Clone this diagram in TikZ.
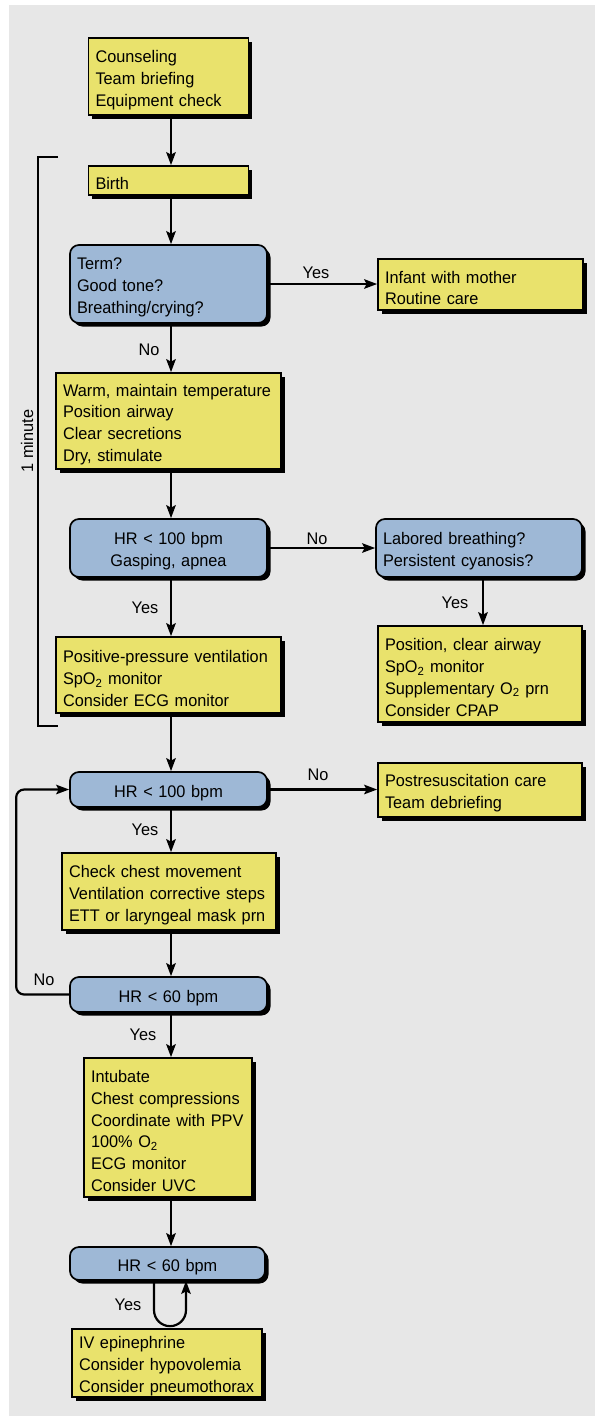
\documentclass[tikz,border=0pt]{standalone}
\usepackage{fontspec}
\setmainfont{Liberation Sans}[FakeStretch=0.97]
\usetikzlibrary{arrows.meta,shadows,calc}
\definecolor{ybox}{RGB}{233,226,108}
\definecolor{bbox}{RGB}{158,184,214}
\definecolor{bgcol}{RGB}{231,231,231}
\newcommand{\boxfont}{\fontsize{16.8}{21.8}\selectfont\hyphenpenalty=10000\exhyphenpenalty=10000}
\tikzset{
  boxbase/.style={draw=black, line width=1.7pt, inner xsep=7pt, inner ysep=0pt,
    font=\boxfont, anchor=center,
    execute at begin node={\rule{0pt}{19pt}},
    general shadow={fill=black, shadow xshift=3.5pt, shadow yshift=-3.5pt}},
  actbox/.style={boxbase, fill=ybox, align=left},
  askbox/.style={boxbase, fill=bbox, rounded corners=9pt, align=left},
  askc/.style={askbox, align=center},
  arr/.style={line width=2.2pt, -{Stealth[length=13pt,width=9.5pt,inset=2.5pt]}},
  lbl/.style={font=\fontsize{16.8}{20}\selectfont, inner sep=0pt},
  brk/.style={line width=1.4pt}
}
\begin{document}
\begin{tikzpicture}[x=1pt,y=1pt]
\useasboundingbox (0,0) rectangle (595,-1416);
\fill[white] (0,0) rectangle (595,-1416);
\fill[bgcol] (9,-5) rectangle (595,-1416);

\coordinate (sp) at (171,0);
\coordinate (sr) at (483,0);

\node[actbox, text width=146pt, minimum height=77pt] (b1) at (168.5,-76.5)
  {Counseling\\Team briefing\\Equipment check};
\node[actbox, text width=146pt, minimum height=29pt] (birth) at (168.5,-180.5) {Birth};
\node[askbox, text width=183pt, minimum height=78pt] (d1) at (168.5,-284)
  {Term?\\Good tone?\\Breathing/crying?};
\node[actbox, text width=191pt, minimum height=51pt] (infant) at (480.5,-284.5)
  {Infant with mother\\Routine care};
\node[actbox, text width=211pt, minimum height=96pt] (warm) at (168.5,-421)
  {\mbox{Warm, maintain temperature}\\Position airway\\Clear secretions\\Dry, stimulate};
\node[askc, text width=183pt, minimum height=58pt] (d2) at (168.5,-548)
  {HR < 100 bpm\\Gasping, apnea};
\node[askbox, text width=192pt, minimum height=58pt] (lab) at (479,-548)
  {Labored breathing?\\Persistent cyanosis?};
\node[actbox, text width=190pt, minimum height=96pt] (pos) at (480,-674)
  {Position, clear airway\\SpO\textsubscript{2} monitor\\Supplementary O\textsubscript{2} prn\\Consider CPAP};
\node[actbox, text width=211pt, minimum height=76pt] (ppv) at (168.5,-675)
  {\mbox{Positive-pressure ventilation}\\SpO\textsubscript{2} monitor\\Consider ECG monitor};
\node[askc, text width=183pt, minimum height=35pt] (d3) at (168.5,-789.5) {HR < 100 bpm};
\node[actbox, text width=190pt, minimum height=54pt] (post) at (480,-790)
  {Postresuscitation care\\Team debriefing};
\node[actbox, text width=200pt, minimum height=77pt] (chk) at (169,-891.5)
  {Check chest movement\\\mbox{Ventilation corrective steps}\\ETT or laryngeal mask prn};
\node[askc, text width=183pt, minimum height=35pt] (d4) at (168.5,-994.5) {HR < 60 bpm};
\node[actbox, text width=154pt, minimum height=139pt] (intu) at (168,-1127.5)
  {Intubate\\Chest compressions\\\mbox{Coordinate with PPV}\\100\% O\textsubscript{2}\\ECG monitor\\Consider UVC};
\node[askc, text width=181pt, minimum height=33pt] (d5) at (167.5,-1263.5) {HR < 60 bpm};
\node[actbox, text width=176pt, minimum height=68pt] (iv) at (167,-1363)
  {IV epinephrine\\Consider hypovolemia\\\mbox{Consider pneumothorax}};

% spine arrows
\draw[arr] (b1.south -| sp) -- (birth.north -| sp);
\draw[arr] (birth.south -| sp) -- (d1.north -| sp);
\draw[arr] (d1.south -| sp) -- (warm.north -| sp);
\draw[arr] (warm.south -| sp) -- (d2.north -| sp);
\draw[arr] (d2.south -| sp) -- (ppv.north -| sp);
\draw[arr] (ppv.south -| sp) -- (d3.north -| sp);
\draw[arr] (d3.south -| sp) -- (chk.north -| sp);
\draw[arr] (chk.south -| sp) -- (d4.north -| sp);
\draw[arr] (d4.south -| sp) -- (intu.north -| sp);
\draw[arr] (intu.south -| sp) -- (d5.north -| sp);

% side arrows
\draw[arr] (d1.east) -- (infant.west |- d1.east);
\draw[arr] (d2.east) -- (lab.west |- d2.east);
\draw[arr] (lab.south -| sr) -- (pos.north -| sr);
\draw[arr] (d3.east) -- (post.west |- d3.east);

% loop back
\draw[arr, rounded corners=8pt] (d4.west) -- ++(-53,0) |- (d3.west);

% epinephrine loop
\coordinate (la) at (154,0);
\coordinate (ra) at (186,0);
\draw[arr] (d5.south -| la) -- ($(iv.north -| la)+(0,18)$)
  arc[start angle=180, end angle=360, radius=16] -- (d5.south -| ra);

% labels
\node[lbl] (l1) at (316,-273) {Yes};
\node[lbl] (l2) at (149,-350) {No};
\node[lbl] (l3) at (317,-539) {No};
\node[lbl] (l4) at (455,-603) {Yes};
\node[lbl] (l5) at (145,-608) {Yes};
\node[lbl] (l6) at (318,-775) {No};
\node[lbl] (l7) at (145,-830) {Yes};
\node[lbl] (l8) at (44,-980) {No};
\node[lbl] (l9) at (143,-1035) {Yes};
\node[lbl] (l10) at (128,-1305) {Yes};

% bracket
\coordinate (bt) at (58,-157);
\coordinate (bb) at (58,-726);
\draw[brk] (bt) -- ++(-20,0) |- (bb);
\node[lbl, rotate=90] (onemin) at (27,-441) {1 minute};
\end{tikzpicture}
\end{document}
